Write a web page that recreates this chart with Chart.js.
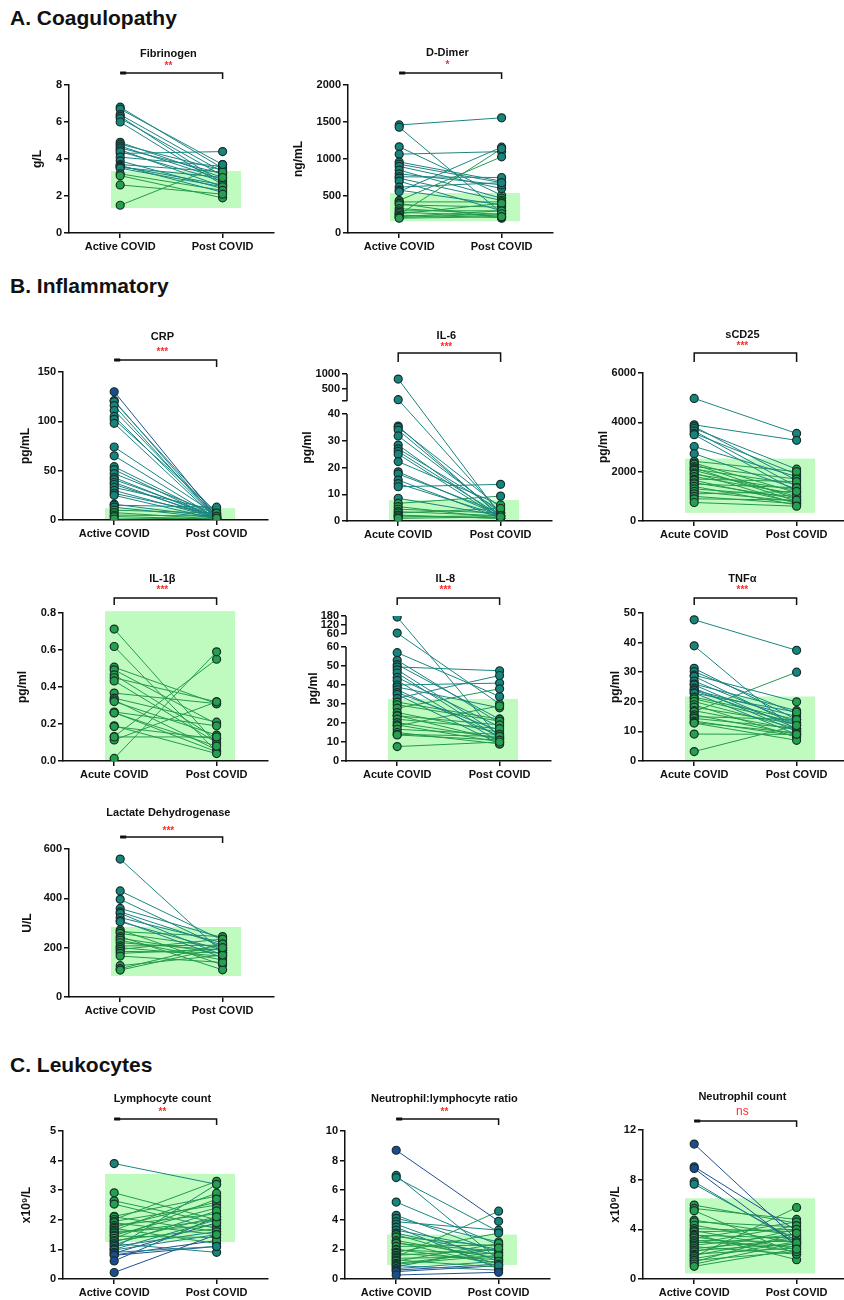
<!DOCTYPE html>
<html>
<head>
<meta charset="utf-8">
<script src="https://cdn.jsdelivr.net/npm/chart.js@4.4.1/dist/chart.umd.min.js"></script>
<style>
  body { margin: 0; background: #fff; width: 844px; height: 1300px; position: relative; overflow: hidden; font-family: "Liberation Sans", Arial, sans-serif; }
  .head { position: absolute; left: 10px; font-weight: bold; font-size: 21px; color: #111; }
</style>
</head>
<body>
<div class="head" style="top:6px">A. Coagulopathy</div>
<div class="head" style="top:274px">B. Inflammatory</div>
<div class="head" style="top:1053px">C. Leukocytes</div>
<script>
// group labels
const catsActive = ["Active COVID", "Post COVID"];
const catsAcute = ["Acute COVID", "Post COVID"];

// fibrinogen, g/L
const fibActive = [6.8, 6.7, 6.4, 6.3, 6.2, 6.0, 4.3, 4.9, 4.8, 4.7, 4.6, 4.5, 4.4, 4.1, 3.9, 3.7, 3.65, 3.6, 3.55, 3.5, 3.2, 3.1, 2.6, 1.5];
const fibPost = [3.5, 3.7, 3.3, 2.7, 3.1, 2.6, 4.4, 3.0, 3.4, 2.9, 3.2, 2.5, 2.8, 3.6, 2.4, 3.3, 2.2, 2.6, 3.0, 2.5, 2.3, 1.9, 2.1, 3.7];
const fibRange = [1.35, 3.35];
const fibTicks = [0, 2, 4, 6, 8];

// d-dimer, ng/mL
const ddActive = [1460, 1430, 1165, 1065, 960, 930, 900, 850, 800, 760, 740, 700, 620, 580, 560, 440, 420, 400, 380, 250, 330, 300, 280, 260, 240, 220, 210, 200];
const ddPost = [1557, 270, 510, 1100, 700, 680, 600, 470, 650, 750, 440, 300, 680, 380, 1160, 1030, 420, 200, 350, 1140, 250, 300, 230, 400, 210, 300, 260, 220];
const ddRange = [160, 540];
const ddTicks = [0, 500, 1000, 1500, 2000];

// CRP, pg/mL
const crpActive = [130, 121, 120, 116, 111, 105, 102, 98, 74, 65, 54, 51, 47, 43, 41, 38, 36, 33, 30, 27, 25, 16, 15, 13, 10, 7.5, 5, 3.5, 1];
const crpPost = [3, 2, 6, 1, 4, 2, 8, 1, 5, 2, 3, 1, 6, 2, 4, 1, 3, 10, 2, 5, 1, 3, 13, 2, 7, 1, 4, 1, 2];
const crpRange = [0, 12];
const crpTicks = [0, 50, 100, 150];

// IL-6, pg/ml (broken axis)
const il6Active = [831, 145, 35.5, 35, 34, 31.8, 28.4, 27, 26, 25, 22.2, 18.4, 17.6, 15.3, 14, 12.8, 8.5, 6.6, 5.4, 4.4, 3.5, 3, 2.2, 2, 1.5, 1];
const il6Post = [2, 3, 1.5, 5, 2, 3, 1, 4, 2, 1, 6, 2, 3, 1, 2, 13.7, 2, 9.3, 1, 3, 2, 4.7, 1, 1, 2, 1.5];
const il6Range = [0, 7.9];
const il6Ticks = [0, 10, 20, 30, 40, 100, 500, 1000];
const il6TickLabels = ["0", "10", "20", "30", "40", "", "500", "1000"];

// sCD25, pg/ml
const scdActive = [4970, 3900, 3830, 3750, 3650, 3550, 3500, 3020, 2730, 2420, 2350, 2300, 2210, 2150, 2100, 2050, 1950, 1900, 1800, 1700, 1650, 1550, 1500, 1400, 1300, 1200, 1100, 1000, 900, 750];
const scdPost = [3550, 3270, 1650, 2100, 1400, 1900, 1200, 1800, 1300, 2000, 1150, 900, 1700, 800, 1500, 1000, 700, 1250, 1100, 1600, 750, 900, 1350, 650, 1000, 800, 1200, 700, 850, 600];
const scdRange = [330, 2530];
const scdTicks = [0, 2000, 4000, 6000];

// IL-1beta, pg/ml
const il1bActive = [0.713, 0.619, 0.507, 0.493, 0.466, 0.45, 0.433, 0.367, 0.34, 0.33, 0.321, 0.265, 0.262, 0.19, 0.186, 0.132, 0.114, 0.13, 0.014, 0.26];
const il1bPost = [0.09, 0.05, 0.31, 0.20, 0.12, 0.32, 0.10, 0.31, 0.21, 0.06, 0.14, 0.19, 0.05, 0.04, 0.12, 0.55, 0.32, 0.13, 0.59, 0.08];
const il1bRange = [0, 0.81];
const il1bTicks = [0, 0.2, 0.4, 0.6, 0.8];
const il1bTickLabels = ["0.0", "0.2", "0.4", "0.6", "0.8"];

// IL-8, pg/ml (broken axis)
const il8Active = [173, 66, 57, 53, 50.7, 49.5, 48, 46.3, 44, 42.4, 40, 38.9, 37.5, 36, 35, 33, 31, 29.6, 27.8, 25.5, 24, 23.8, 22, 20.2, 19, 18.5, 16.7, 15, 14, 13.7, 7.6];
const il8Post = [12, 30, 34, 20, 22, 47.5, 14, 12, 18, 10, 41, 28, 13, 16, 9, 45, 22, 21, 38, 15, 11, 19, 17, 12, 10, 29, 14, 9, 13, 11, 10];
const il8Range = [0, 32.6];
const il8Ticks = [0, 10, 20, 30, 40, 50, 60, 60.0001, 120, 180];
const il8TickLabels = ["0", "10", "20", "30", "40", "50", "60", "60", "120", "180"];

// TNF-alpha, pg/ml
const tnfActive = [47.7, 38.9, 31.3, 30.2, 29, 28.6, 27, 26, 25.7, 24.6, 24, 23.8, 23, 22.9, 21.6, 21, 20.1, 19, 18.2, 17, 16.7, 15.6, 15, 14.4, 13.5, 13, 12.8, 9.1, 3.2];
const tnfPost = [37.4, 10, 14, 16, 20, 12, 13, 17, 11, 10, 15, 12, 9, 16.5, 14, 13, 11, 8, 12.5, 10.5, 30, 9, 14, 11, 8.5, 9.5, 7, 9, 12];
const tnfRange = [0, 21.8];
const tnfTicks = [0, 10, 20, 30, 40, 50];

// lactate dehydrogenase, U/L
const ldhActive = [559, 430, 396, 359, 345, 339, 322, 310, 305, 272, 265, 258, 245, 238, 230, 220, 207, 200, 193, 185, 177, 166, 127, 115, 109];
const ldhPost = [180, 230, 200, 240, 210, 170, 220, 160, 190, 130, 245, 200, 110, 175, 150, 190, 210, 165, 235, 180, 195, 140, 170, 215, 200];
const ldhRange = [85, 284];
const ldhTicks = [0, 200, 400, 600];

// lymphocyte count, x10^9/L
const lymActive = [3.9, 2.91, 2.64, 2.53, 2.12, 2.1, 2.01, 1.95, 1.9, 1.81, 1.75, 1.71, 1.65, 1.6, 1.55, 1.48, 1.45, 1.37, 1.3, 1.26, 1.2, 1.15, 1.1, 1.03, 1.0, 0.98, 0.9, 0.87, 0.81, 0.8, 0.61, 0.22];
const lymPost = [3.2, 2.0, 1.9, 1.7, 2.8, 1.6, 3.3, 2.5, 1.5, 2.2, 2.6, 1.2, 2.9, 1.8, 2.0, 2.4, 1.4, 2.7, 1.7, 2.1, 0.9, 2.3, 1.6, 3.2, 2.0, 1.5, 1.1, 1.9, 1.3, 1.1, 2.1, 1.5];
const lymRange = [1.25, 3.55];
const lymTicks = [0, 1, 2, 3, 4, 5];

// neutrophil:lymphocyte ratio
const nlrActive = [8.7, 7.0, 6.85, 5.2, 4.3, 4.1, 3.87, 3.7, 3.5, 3.3, 3.1, 3.0, 2.85, 2.6, 2.5, 2.4, 2.2, 2.0, 1.96, 1.8, 1.73, 1.6, 1.5, 1.4, 1.28, 1.2, 1.06, 1.0, 0.9, 0.83, 0.7, 0.6, 0.5, 0.27];
const nlrPost = [3.9, 1.3, 3.2, 2.3, 1.8, 2.5, 3.3, 1.2, 0.7, 2.0, 1.6, 1.0, 2.2, 1.4, 0.9, 1.9, 2.3, 1.1, 1.7, 3.1, 1.3, 2.0, 4.58, 1.5, 0.8, 2.4, 1.8, 1.6, 0.6, 2.1, 1.2, 1.0, 0.9, 0.45];
const nlrRange = [0.95, 3.0];
const nlrTicks = [0, 2, 4, 6, 8, 10];

// neutrophil count, x10^9/L
const neuActive = [10.87, 9.04, 8.9, 7.83, 7.64, 5.95, 5.68, 5.5, 4.74, 4.6, 4.33, 4.06, 3.9, 3.79, 3.6, 3.52, 3.4, 3.26, 3.1, 2.99, 2.85, 2.72, 2.6, 2.45, 2.3, 2.18, 2.0, 1.91, 1.8, 1.64, 1.5, 1.37, 1.2, 1.02];
const neuPost = [3.2, 3.9, 2.7, 2.9, 3.1, 4.5, 4.8, 2.0, 3.5, 4.2, 2.9, 3.8, 2.4, 4.0, 1.56, 3.3, 2.2, 4.6, 3.0, 2.6, 4.3, 3.6, 2.0, 3.2, 2.8, 4.0, 2.5, 3.4, 5.76, 3.0, 2.2, 3.7, 2.9, 2.4];
const neuRange = [0.45, 6.5];
const neuTicks = [0, 4, 8, 12];

Chart.defaults.font.family = '"Liberation Sans", Arial, sans-serif';
Chart.defaults.color = "#111";

const INK = "#111";
const LINE = { green: "#249a4d", teal: "#1a8582", blue: "#21508f" };
const DOT = { green: "#26a04e", teal: "#17847d", blue: "#1d4c8c" };
const RANGE_FILL = "#bffbbf";

// pick a colour from where a value sits against the normal range
function tone(v, c) {
  if ((c.blueHi != null && v > c.blueHi) || (c.blueLo != null && v < c.blueLo)) return "blue";
  if (v > c.range[1] || v < c.range[0]) return "teal";
  return "green";
}

// broken axis: squeeze the upper part above the lower one
function makeTf(brk) {
  if (!brk) return (v) => v;
  return (v) => (v <= brk.lowMax ? v : brk.lowMax + brk.gap + (v - brk.upMin) * brk.k);
}

function pairChart(c) {
  const L = c.yLabel ? c.yLabelX - 7 : c.axisX - 40;
  const T = c.titleY - 12;
  const W = c.axisX + 210 - L;
  const H = c.yBottom + 30 - T;
  const cv = document.createElement("canvas");
  cv.style.cssText = `position:absolute;left:${L}px;top:${T}px;width:${W}px;height:${H}px`;
  document.body.appendChild(cv);

  const tf = makeTf(c.brk);
  const labels = c.tickLabels || c.ticks.map(String);
  const yMax = tf(c.ticks[c.ticks.length - 1]);

  const points = [];
  const fills = [];
  c.active.forEach((a) => { points.push({ x: 0, y: tf(a) }); fills.push(DOT[tone(a, c)]); });
  c.post.forEach((p) => { points.push({ x: 1, y: tf(p) }); fills.push(DOT[tone(p, c)]); });

  const datasets = [{
    data: points,
    pointRadius: 4,
    pointBackgroundColor: fills,
    pointBorderColor: "#15302a",
    pointBorderWidth: 1.2,
    showLine: false,
    order: 0,
  }];
  c.active.forEach((a, i) => {
    datasets.push({
      data: [{ x: 0, y: tf(a) }, { x: 1, y: tf(c.post[i]) }],
      showLine: true,
      borderColor: LINE[tone(a, c)],
      borderWidth: 1,
      pointRadius: 0,
      order: 1,
    });
  });

  const decor = {
    id: "decor",
    beforeDraw(ch) {
      const { ctx, scales: { x, y } } = ch;
      const x0 = x.getPixelForValue(-0.09), x1 = x.getPixelForValue(1.18);
      const y0 = y.getPixelForValue(tf(c.range[1])), y1 = y.getPixelForValue(tf(c.range[0]));
      ctx.save();
      ctx.fillStyle = RANGE_FILL;
      ctx.fillRect(x0, y0, x1 - x0, y1 - y0);
      ctx.restore();
    },
    afterDraw(ch) {
      const { ctx, scales: { x, y } } = ch;
      const bx0 = x.getPixelForValue(0), bx1 = x.getPixelForValue(1);
      const mid = (bx0 + bx1) / 2;
      ctx.save();
      // broken y axis
      if (c.brk) {
        const ax = ch.chartArea.left;
        ctx.strokeStyle = INK;
        ctx.lineWidth = 1.5;
        ctx.beginPath();
        ctx.moveTo(ax, y.getPixelForValue(0) + 0.75);
        ctx.lineTo(ax, y.getPixelForValue(tf(c.brk.lowMax)));
        ctx.moveTo(ax, y.getPixelForValue(tf(c.brk.upMin + 1e-4)));
        ctx.lineTo(ax, y.getPixelForValue(yMax));
        ctx.stroke();
      }
      // title
      ctx.fillStyle = INK;
      ctx.textAlign = "center";
      ctx.textBaseline = "middle";
      ctx.font = 'bold 11px "Liberation Sans", Arial, sans-serif';
      ctx.fillText(c.title, mid - 3, c.titleY - T);
      // significance
      ctx.fillStyle = "#ff2b2b";
      ctx.font = c.stars === "ns" ? '12px "Liberation Sans", Arial, sans-serif' : 'bold 10px "Liberation Sans", Arial, sans-serif';
      ctx.fillText(c.stars, mid - 3, c.starsY - T);
      // bracket
      const by = c.bracketY - T;
      ctx.strokeStyle = INK;
      ctx.lineWidth = 1.5;
      ctx.beginPath();
      if (c.bracket === "both") {
        ctx.moveTo(bx0, by + c.drop);
        ctx.lineTo(bx0, by);
      } else {
        ctx.moveTo(bx0, by);
      }
      ctx.lineTo(bx1, by);
      ctx.lineTo(bx1, by + c.drop);
      ctx.stroke();
      if (c.bracket !== "both") {
        ctx.lineWidth = 3;
        ctx.beginPath();
        ctx.moveTo(bx0, by);
        ctx.lineTo(bx0 + 6, by);
        ctx.stroke();
      }
      ctx.restore();
    },
  };

  return new Chart(cv, {
    type: "scatter",
    data: { datasets },
    plugins: [decor],
    options: {
      responsive: false,
      maintainAspectRatio: false,
      animation: false,
      layout: { padding: { top: c.yTop - T, left: 0, right: 0, bottom: 0 } },
      plugins: { legend: { display: false }, tooltip: { enabled: false } },
      scales: {
        x: {
          type: "linear",
          min: -0.5,
          max: 1.5,
          afterBuildTicks: (s) => { s.ticks = [{ value: 0 }, { value: 1 }]; },
          afterFit: (s) => { s.height = 30; },
          ticks: {
            callback: (v, i) => c.cats[i],
            font: { size: 11, weight: "bold" },
            color: INK,
            padding: 2,
            maxRotation: 0,
            autoSkip: false,
          },
          grid: { drawOnChartArea: false, drawTicks: true, tickLength: 5, color: INK, lineWidth: 1.5 },
          border: { color: INK, width: 1.5 },
        },
        y: {
          type: "linear",
          min: 0,
          max: yMax,
          afterBuildTicks: (s) => { s.ticks = c.ticks.map((t) => ({ value: tf(t) })); },
          afterFit: (s) => { s.width = c.axisX - L; },
          ticks: {
            callback: (v, i) => labels[i],
            font: { size: 11, weight: "bold" },
            color: INK,
            padding: 2,
            autoSkip: false,
          },
          title: {
            display: !!c.yLabel,
            text: c.yLabel || "",
            font: { size: 12, weight: "bold" },
            color: INK,
            padding: { top: 0, bottom: 0 },
          },
          grid: { drawOnChartArea: false, drawTicks: true, tickLength: 5, color: INK, lineWidth: 1.5 },
          border: { display: !c.brk, color: INK, width: 1.5 },
        },
      },
    },
  });
}

// A. Coagulopathy
pairChart({ title: "Fibrinogen", stars: "**", bracket: "right", drop: 6, cats: catsActive,
  active: fibActive, post: fibPost, range: fibRange, ticks: fibTicks, yLabel: "g/L",
  axisX: 69, yTop: 85, yBottom: 233, titleY: 54, starsY: 66, bracketY: 73, yLabelX: 37 });
pairChart({ title: "D-Dimer", stars: "*", bracket: "right", drop: 6, cats: catsActive,
  active: ddActive, post: ddPost, range: ddRange, ticks: ddTicks, yLabel: "ng/mL",
  axisX: 348, yTop: 85, yBottom: 233, titleY: 53, starsY: 65, bracketY: 73, yLabelX: 298 });

// B. Inflammatory
pairChart({ title: "CRP", stars: "***", bracket: "right", drop: 7, cats: catsActive,
  active: crpActive, post: crpPost, range: crpRange, ticks: crpTicks, yLabel: "pg/mL", blueHi: 125,
  axisX: 63, yTop: 372, yBottom: 520, titleY: 337, starsY: 352, bracketY: 360, yLabelX: 25 });
pairChart({ title: "IL-6", stars: "***", bracket: "both", drop: 9, cats: catsAcute,
  active: il6Active, post: il6Post, range: il6Range, ticks: il6Ticks, tickLabels: il6TickLabels, yLabel: "pg/ml",
  brk: { lowMax: 40, upMin: 100, gap: 4.86, k: 0.01122 },
  axisX: 347, yTop: 374, yBottom: 521, titleY: 336, starsY: 347, bracketY: 353, yLabelX: 307 });
pairChart({ title: "sCD25", stars: "***", bracket: "both", drop: 9, cats: catsAcute,
  active: scdActive, post: scdPost, range: scdRange, ticks: scdTicks, yLabel: "pg/ml",
  axisX: 643, yTop: 373, yBottom: 521, titleY: 335, starsY: 346, bracketY: 353, yLabelX: 603 });
pairChart({ title: "IL-1β", stars: "***", bracket: "both", drop: 7, cats: catsAcute,
  active: il1bActive, post: il1bPost, range: il1bRange, ticks: il1bTicks, tickLabels: il1bTickLabels, yLabel: "pg/ml",
  axisX: 63, yTop: 613, yBottom: 761, titleY: 579, starsY: 590, bracketY: 598, yLabelX: 22 });
pairChart({ title: "IL-8", stars: "***", bracket: "both", drop: 7, cats: catsAcute,
  active: il8Active, post: il8Post, range: il8Range, ticks: il8Ticks, tickLabels: il8TickLabels, yLabel: "pg/ml",
  brk: { lowMax: 60, upMin: 60, gap: 6.84, k: 0.0789 },
  axisX: 346, yTop: 616, yBottom: 761, titleY: 579, starsY: 590, bracketY: 598, yLabelX: 313 });
pairChart({ title: "TNFα", stars: "***", bracket: "both", drop: 7, cats: catsAcute,
  active: tnfActive, post: tnfPost, range: tnfRange, ticks: tnfTicks, yLabel: "pg/ml",
  axisX: 643, yTop: 613, yBottom: 761, titleY: 579, starsY: 590, bracketY: 598, yLabelX: 615 });
pairChart({ title: "Lactate Dehydrogenase", stars: "***", bracket: "right", drop: 6, cats: catsActive,
  active: ldhActive, post: ldhPost, range: ldhRange, ticks: ldhTicks, yLabel: "U/L",
  axisX: 69, yTop: 849, yBottom: 997, titleY: 813, starsY: 831, bracketY: 837, yLabelX: 27 });

// C. Leukocytes
pairChart({ title: "Lymphocyte count", stars: "**", bracket: "right", drop: 6, cats: catsActive,
  active: lymActive, post: lymPost, range: lymRange, ticks: lymTicks, yLabel: "x10⁹/L", blueLo: 0.9,
  axisX: 63, yTop: 1131, yBottom: 1279, titleY: 1099, starsY: 1112, bracketY: 1119, yLabelX: 26 });
pairChart({ title: "Neutrophil:lymphocyte ratio", stars: "**", bracket: "right", drop: 6, cats: catsActive,
  active: nlrActive, post: nlrPost, range: nlrRange, ticks: nlrTicks, blueHi: 8, blueLo: 0.65,
  axisX: 345, yTop: 1131, yBottom: 1279, titleY: 1099, starsY: 1112, bracketY: 1119 });
pairChart({ title: "Neutrophil count", stars: "ns", bracket: "right", drop: 6, cats: catsActive,
  active: neuActive, post: neuPost, range: neuRange, ticks: neuTicks, yLabel: "x10⁹/L", blueHi: 8.5,
  axisX: 643, yTop: 1130, yBottom: 1279, titleY: 1097, starsY: 1112, bracketY: 1121, yLabelX: 615 });
</script>
</body>
</html>
